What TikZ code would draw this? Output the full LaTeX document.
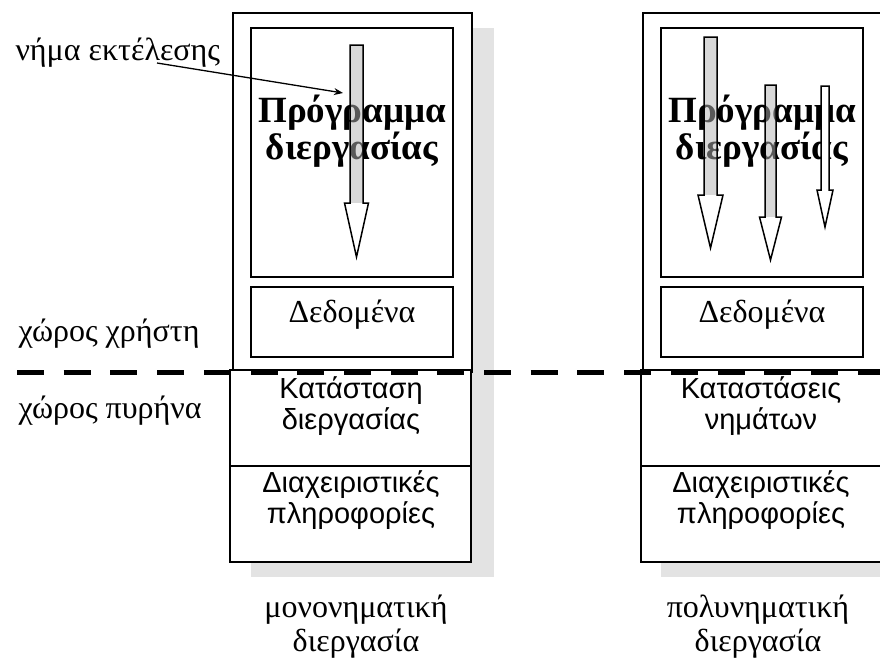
\documentclass[tikz,border=0pt]{standalone}
\usepackage{fontspec}
\setmainfont{Liberation Serif}
\setsansfont{Liberation Sans}
\usetikzlibrary{positioning, arrows.meta, calc}
\tikzset{
  ubox/.style={draw, line width=2.5pt, fill=white, inner sep=0pt, outer sep=0pt}, % user space boxes
  kbox/.style={draw, line width=2pt, fill=white, inner sep=0pt, outer sep=0pt,
    minimum width=241pt, minimum height=96pt}, % kernel space boxes
  shadowfill/.style={fill=black!11},
  shaftfill/.style={fill=black!30, fill opacity=0.5},
  progtxt/.style={font=\fontsize{37}{35}\selectfont\bfseries, align=center},
  lbl/.style={font=\fontsize{32}{34}\selectfont},
  lbltwo/.style={font=\fontsize{32}{34}\selectfont, align=center},
  klbl/.style={font=\sffamily\fontsize{29}{31}\selectfont, align=center},
  spaceline/.style={line width=5pt, dash pattern=on 27pt off 19.7pt},
  thrline/.style={line width=1.5pt, line join=miter},
}
% thread arrow: x, top, head base, tip, half shaft, half head, shaft fill
\newcommand{\thrarrow}[7]{%
  \fill[#7] (#1-#5,#2) rectangle (#1+#5,#3);
  \draw[thrline] (#1-#5,#2) -- (#1+#5,#2) -- (#1+#5,#3) -- (#1+#6,#3)
    -- (#1,#4) -- (#1-#6,#3) -- (#1-#5,#3) -- cycle;
}
\begin{document}
\begin{tikzpicture}[x=1pt, y=-1pt]
\useasboundingbox (0,0) rectangle (880,659);
\clip (0,0) rectangle (880,659);

% shadows
\fill[shadowfill] (251,28) rectangle (494,577);
\fill[shadowfill] (661,28) rectangle (904,577);

% single threaded process
\node[ubox, minimum width=239pt, minimum height=359pt] (uspL) at (352.5,192.5) {};
\node[ubox, minimum width=202pt, minimum height=249pt] (progL) at (352,152.5) {};
\node[ubox, minimum width=202pt, minimum height=70pt] (dataL) at (352,322) {};
\node[kbox] (stateL) at (350.5,418) {};
\node[kbox] (infoL) at (350.5,514) {};
\node[progtxt] (progLtxt) at (352,131) {Πρόγραμμα\\διεργασίας};
\node[lbl, anchor=base] (dataLtxt) at (352,322) {Δεδομένα};
\node[klbl] (stateLtxt) at (351,406) {Κατάσταση\\διεργασίας};
\node[klbl] (infoLtxt) at (351,500) {Διαχειριστικές\\πληροφορίες};
\node[lbltwo] (singleLbl) at (356,627) {μονονηματική\\διεργασία};

% multi threaded process
\node[ubox, minimum width=239pt, minimum height=359pt] (uspR) at (762.5,192.5) {};
\node[ubox, minimum width=202pt, minimum height=249pt] (progR) at (762,152.5) {};
\node[ubox, minimum width=202pt, minimum height=70pt] (dataR) at (762,322) {};
\node[kbox] (stateR) at (761,418) {};
\node[kbox] (infoR) at (761,514) {};
\node[progtxt] (progRtxt) at (762,131) {Πρόγραμμα\\διεργασίας};
\node[lbl, anchor=base] (dataRtxt) at (762,322) {Δεδομένα};
\node[klbl] (stateRtxt) at (761,406) {Καταστάσεις\\νημάτων};
\node[klbl] (infoRtxt) at (761,500) {Διαχειριστικές\\πληροφορίες};
\node[lbltwo] (multiLbl) at (758,627) {πολυνηματική\\διεργασία};

% threads
\thrarrow{356.5}{45}{203}{257}{6.5}{12}{shaftfill}
\thrarrow{710.5}{37}{195}{248}{6.5}{12.5}{shaftfill}
\thrarrow{770.5}{85}{217}{260}{5.5}{11}{shaftfill}
\thrarrow{825}{86}{190}{227}{4}{8}{fill=white}

% space labels
\node[lbl, anchor=base west] (usrLbl) at (15,341) {χώρος χρήστη};
\node[lbl, anchor=base west] (krnLbl) at (15,418) {χώρος πυρήνα};
\node[lbl, anchor=base west] (thrLbl) at (12,60) {νήμα εκτέλεσης};

\coordinate (thrStart) at ($(thrLbl.base west)+(145,3)$);
\coordinate (thrTip) at (343,93);
\draw[-{Stealth[length=9pt,width=7pt]}, line width=1.3pt] (thrStart) -- (thrTip);

% user / kernel border
\coordinate (lineL) at (17,372);
\coordinate (lineR) at (880,372);
\draw[spaceline] (lineL) -- (lineR);
\end{tikzpicture}
\end{document}
